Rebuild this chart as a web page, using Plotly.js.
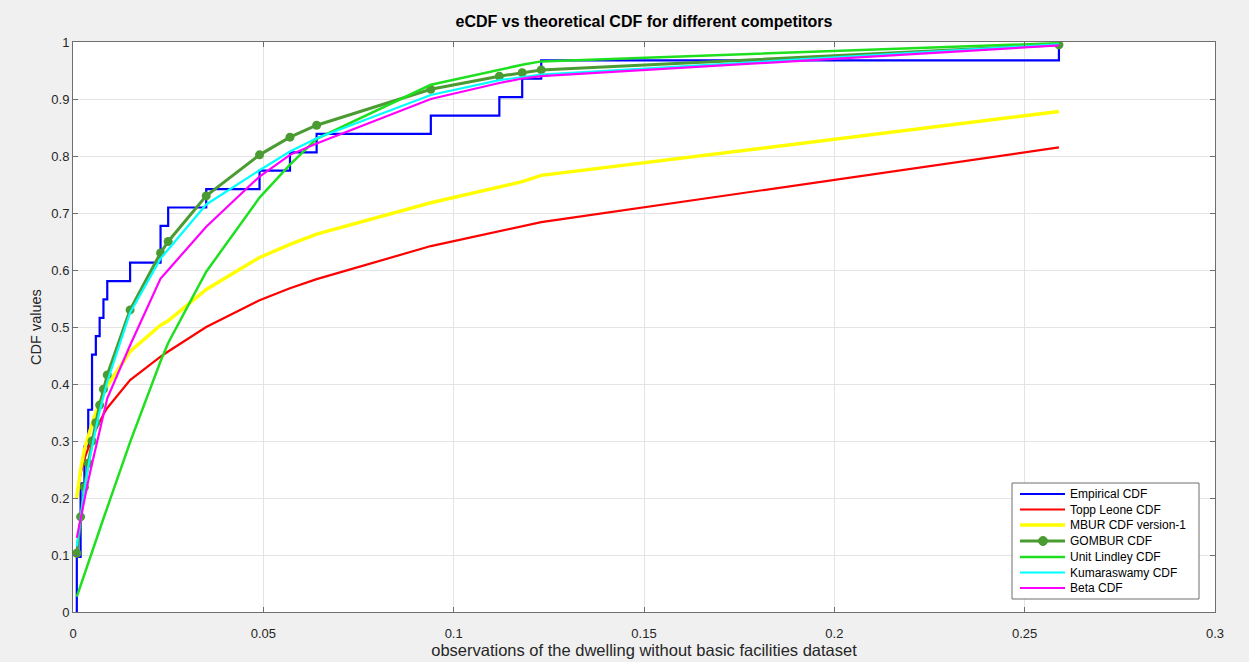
<!DOCTYPE html>
<html>
<head>
<meta charset="utf-8">
<script src="https://cdn.plot.ly/plotly-3.0.1.min.js"></script>
<style>
  html, body { margin: 0; padding: 0; background: #f0f0f0; }
  #chart { width: 1249px; height: 662px; }
</style>
</head>
<body>
<div id="chart"></div>
<script>
// Observations: dwellings without basic facilities (31 values)
const observations = [
  0.001, 0.001, 0.001, 0.002, 0.002, 0.002, 0.002, 0.003, 0.003, 0.004, 0.004,
  0.005, 0.005, 0.005, 0.006, 0.007, 0.008, 0.009, 0.015, 0.023, 0.023, 0.025,
  0.035, 0.049, 0.057, 0.064, 0.094, 0.112, 0.118, 0.123, 0.259
];

// Distinct sorted observations where each fitted CDF is evaluated
const evalPoints = [
  0.001, 0.002, 0.003, 0.004, 0.005, 0.006, 0.007, 0.008, 0.009,
  0.015, 0.023, 0.025, 0.035, 0.049, 0.057, 0.064, 0.094, 0.112, 0.118, 0.123, 0.259
];

// Fitted CDF values at evalPoints
const toppLeoneCdf = [0.204, 0.243, 0.269, 0.289, 0.305, 0.320, 0.335, 0.347, 0.358,
  0.407, 0.448, 0.457, 0.500, 0.547, 0.568, 0.584, 0.642, 0.668, 0.676, 0.684, 0.815];
const mburCdf = [0.200, 0.250, 0.285, 0.310, 0.330, 0.350, 0.368, 0.383, 0.397,
  0.457, 0.503, 0.511, 0.566, 0.622, 0.645, 0.663, 0.718, 0.746, 0.755, 0.766, 0.878];
const gomburCdf = [0.103, 0.167, 0.219, 0.261, 0.300, 0.332, 0.363, 0.391, 0.416,
  0.530, 0.630, 0.650, 0.730, 0.802, 0.833, 0.854, 0.917, 0.940, 0.946, 0.951, 0.995];
const unitLindleyCdf = [0.027, 0.047, 0.066, 0.086, 0.105, 0.125, 0.144, 0.164, 0.183,
  0.298, 0.440, 0.472, 0.597, 0.727, 0.785, 0.830, 0.925, 0.952, 0.960, 0.966, 0.998];
const kumaraswamyCdf = [0.115, 0.170, 0.215, 0.255, 0.290, 0.322, 0.352, 0.380, 0.404,
  0.525, 0.620, 0.636, 0.715, 0.775, 0.808, 0.831, 0.907, 0.933, 0.939, 0.943, 0.996];
const betaCdf = [0.130, 0.165, 0.200, 0.230, 0.260, 0.290, 0.318, 0.345, 0.375,
  0.468, 0.585, 0.600, 0.676, 0.764, 0.802, 0.822, 0.900, 0.928, 0.936, 0.940, 0.994];

const seriesNames = ['Empirical CDF', 'Topp Leone CDF', 'MBUR CDF version-1', 'GOMBUR CDF',
  'Unit Lindley CDF', 'Kumaraswamy CDF', 'Beta CDF'];

// Line styles shared by the curves and the legend box
const styles = [
  { color: '#0000ff', width: 2.2 },
  { color: '#ff0000', width: 2.2 },
  { color: '#ffff00', width: 3.5 },
  { color: '#4b9b33', width: 3 },
  { color: '#1fe01f', width: 2.5 },
  { color: '#00ffff', width: 2.2 },
  { color: '#ff00ff', width: 2.2 }
];

// Empirical CDF as a staircase: start at 0 at the smallest observation
const sorted = observations.slice().sort((a, b) => a - b);
const n = sorted.length;
const ecdfX = [sorted[0]];
const ecdfY = [0];
for (let i = 0; i < n; i++) {
  if (i < n - 1 && sorted[i + 1] === sorted[i]) continue;
  ecdfX.push(sorted[i]);
  ecdfY.push((i + 1) / n);
}

const fitted = [toppLeoneCdf, mburCdf, gomburCdf, unitLindleyCdf, kumaraswamyCdf, betaCdf];

const traces = [
  { x: ecdfX, y: ecdfY, name: seriesNames[0], mode: 'lines',
    line: Object.assign({ shape: 'hv' }, styles[0]) }
];
fitted.forEach((vals, k) => {
  const idx = k + 1;
  const tr = { x: evalPoints, y: vals, name: seriesNames[idx], mode: 'lines',
    line: Object.assign({}, styles[idx]) };
  if (idx === 3) {
    tr.mode = 'lines+markers';
    tr.marker = { color: styles[idx].color, size: 9, symbol: 'circle' };
  }
  traces.push(tr);
});

// Legend box drawn in the lower-right corner of the axes
const W = 1142, H = 570, L = 73, T = 42;
const px = v => (v - L) / W;
const py = v => (T + H - v) / H;
const shapes = [{
  type: 'rect', xref: 'paper', yref: 'paper',
  x0: px(1012), x1: px(1199), y0: py(599), y1: py(483),
  fillcolor: '#ffffff', line: { color: '#6e6e6e', width: 1 }, layer: 'above'
}];
const annotations = [];
const rowY = [494, 509.5, 525, 541, 557, 572.5, 588];
seriesNames.forEach((name, i) => {
  shapes.push({
    type: 'line', xref: 'paper', yref: 'paper',
    x0: px(1020), x1: px(1065), y0: py(rowY[i]), y1: py(rowY[i]),
    line: { color: styles[i].color, width: styles[i].width }, layer: 'above'
  });
  annotations.push({
    text: name, xref: 'paper', yref: 'paper', x: px(1068), y: py(rowY[i]),
    xanchor: 'left', yanchor: 'middle', showarrow: false,
    font: { family: 'Liberation Sans, Arial, sans-serif', size: 12, color: '#000000' }
  });
});
shapes.push({
  type: 'circle', xref: 'paper', yref: 'paper', xsizemode: 'pixel', ysizemode: 'pixel',
  xanchor: px(1043), yanchor: py(rowY[3]), x0: -4.5, x1: 4.5, y0: -4.5, y1: 4.5,
  fillcolor: styles[3].color, line: { color: styles[3].color, width: 1 }, layer: 'above'
});

const axisCommon = {
  showline: true, mirror: 'ticks', linecolor: '#6e6e6e', linewidth: 1,
  ticks: 'inside', ticklen: 5, tickcolor: '#6e6e6e',
  showgrid: true, gridcolor: '#e4e4e4', gridwidth: 1, zeroline: false, automargin: false,
  tickfont: { family: 'Liberation Sans, Arial, sans-serif', size: 13, color: '#262626' }
};

const layout = {
  width: 1249, height: 662,
  paper_bgcolor: '#f0f0f0', plot_bgcolor: '#ffffff',
  margin: { l: 73, r: 34, t: 42, b: 50 },
  showlegend: false,
  title: {
    text: '<b>eCDF vs theoretical CDF for different competitors</b>',
    font: { family: 'Liberation Sans, Arial, sans-serif', size: 16, color: '#000000' },
    x: 0.5, xanchor: 'center', xref: 'paper', y: 0.967, yanchor: 'middle', yref: 'container'
  },
  xaxis: Object.assign({}, axisCommon, {
    range: [0, 0.3], dtick: 0.05, tick0: 0, ticklabelstandoff: 9,
    title: { text: 'observations of the dwelling without basic facilities dataset',
      font: { family: 'Liberation Sans, Arial, sans-serif', size: 16.5, color: '#262626' }, standoff: 2 }
  }),
  yaxis: Object.assign({}, axisCommon, {
    range: [0, 1], dtick: 0.1, tick0: 0,
    title: { text: 'CDF values',
      font: { family: 'Liberation Sans, Arial, sans-serif', size: 14.5, color: '#262626' }, standoff: 6 }
  }),
  shapes: shapes,
  annotations: annotations
};

Plotly.newPlot('chart', traces, layout, { displayModeBar: false, staticPlot: true });
</script>
</body>
</html>
